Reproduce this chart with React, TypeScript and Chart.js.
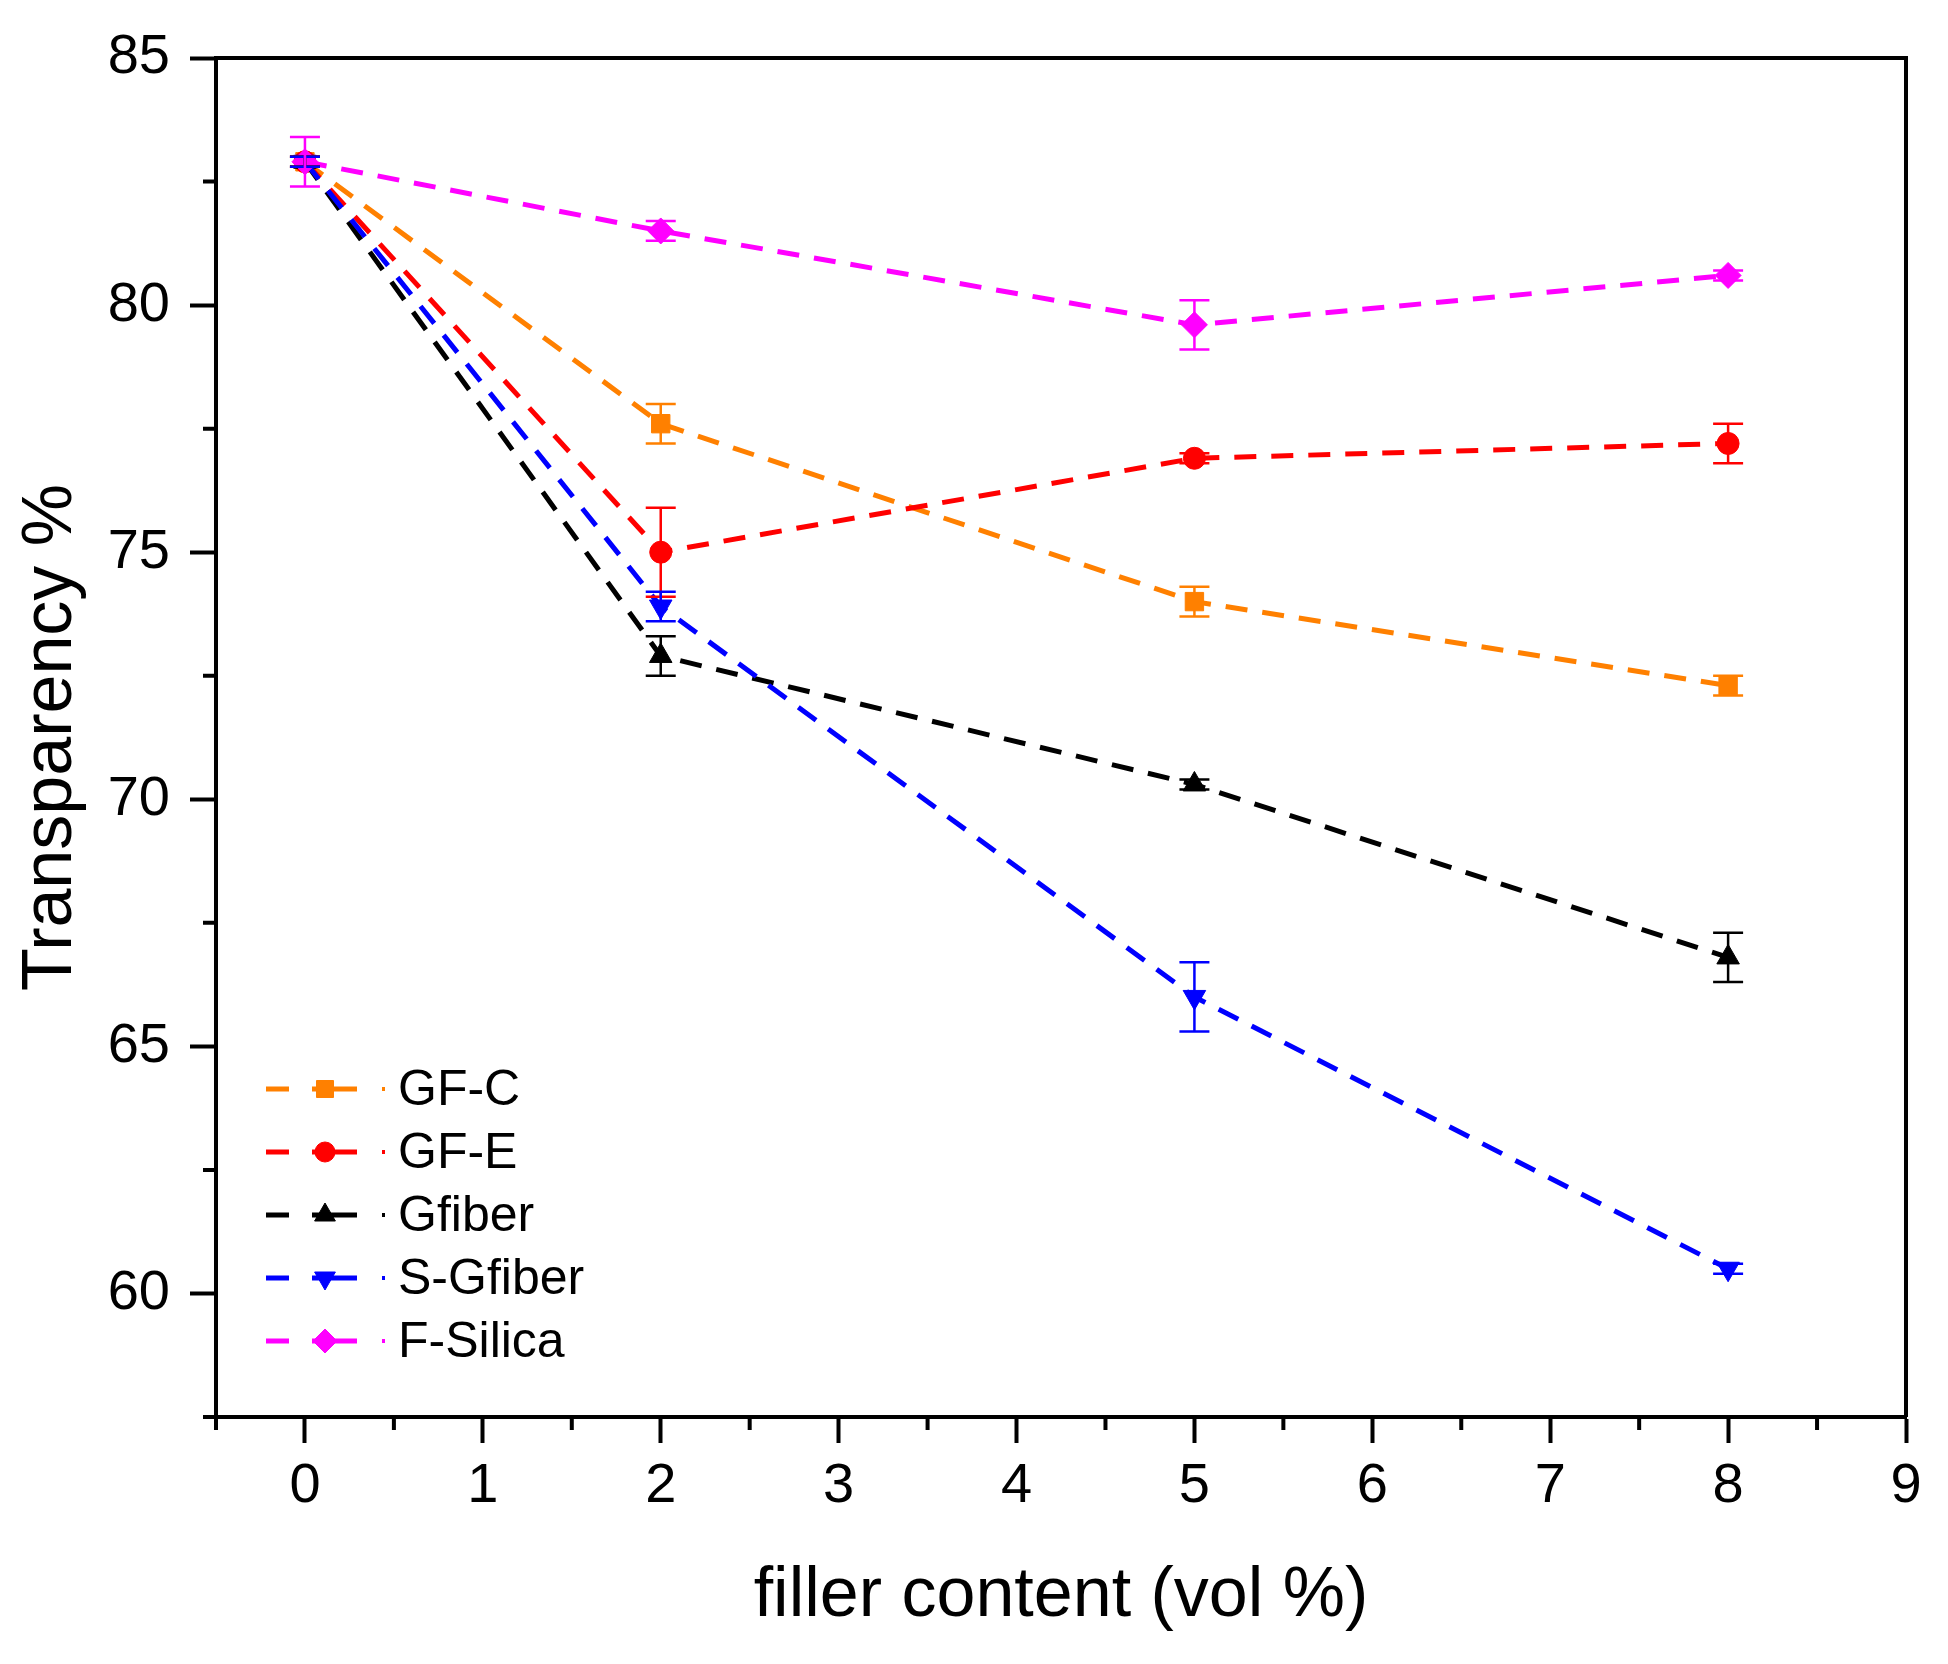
import React, { useEffect, useRef } from 'react';
import { Chart, registerables } from 'chart.js';
import { drawPoint } from 'chart.js/helpers';

Chart.register(...registerables);

const fillerContent = [0, 2, 5, 8];
const seriesNames = ['GF-C', 'GF-E', 'Gfiber', 'S-Gfiber', 'F-Silica'];
const seriesColors = ['#FF8000', '#FF0000', '#000000', '#0000FF', '#FF00FF'];

const gfC = [82.9, 77.6, 74.0, 72.3];
const gfCErr = [0.1, 0.4, 0.3, 0.2];
const gfE = [82.9, 75.0, 76.9, 77.2];
const gfEErr = [0.1, 0.9, 0.1, 0.4];
const gfiber = [82.9, 72.9, 70.3, 66.8];
const gfiberErr = [0.1, 0.4, 0.1, 0.5];
const sGfiber = [82.9, 73.9, 66.0, 60.5];
const sGfiberErr = [0.1, 0.3, 0.7, 0.1];
const fSilica = [82.9, 81.5, 79.6, 80.6];
const fSilicaErr = [0.5, 0.2, 0.5, 0.1];

const xTicks = [0, 1, 2, 3, 4, 5, 6, 7, 8, 9];
const xMinorTicks = [-0.5, 0.5, 1.5, 2.5, 3.5, 4.5, 5.5, 6.5, 7.5, 8.5];
const yTicks = [60, 65, 70, 75, 80, 85];
const yMinorTicks = [57.5, 62.5, 67.5, 72.5, 77.5, 82.5];

const seriesValues = [gfC, gfE, gfiber, sGfiber, fSilica];
const seriesErrors = [gfCErr, gfEErr, gfiberErr, sGfiberErr, fSilicaErr];
const markerStyles = ['rect', 'circle', 'triangle', 'triangle', 'rectRot'];
const markerRotation = [0, 0, 0, 180, 0];
const markerRadius = [13, 11, 13, 13, 13];

const FONT = "'Liberation Sans', Arial, sans-serif";

// error bars, minor ticks, top/right frame and the Origin-style legend
const extrasPlugin = {
  id: 'extras',
  afterDatasetsDraw(chart: any) {
    const { ctx } = chart;
    const yScale = chart.scales.y;
    chart.data.datasets.forEach((ds: any, di: number) => {
      const meta = chart.getDatasetMeta(di);
      const errs = seriesErrors[di];
      ctx.save();
      ctx.strokeStyle = ds.borderColor;
      ctx.lineWidth = 2.5;
      meta.data.forEach((pt: any, i: number) => {
        const v = seriesValues[di][i];
        const top = yScale.getPixelForValue(v + errs[i]);
        const bot = yScale.getPixelForValue(v - errs[i]);
        ctx.beginPath();
        ctx.moveTo(pt.x, top);
        ctx.lineTo(pt.x, bot);
        ctx.moveTo(pt.x - 15, top);
        ctx.lineTo(pt.x + 15, top);
        ctx.moveTo(pt.x - 15, bot);
        ctx.lineTo(pt.x + 15, bot);
        ctx.stroke();
      });
      ctx.restore();
    });
  },
  afterDraw(chart: any) {
    const { ctx, chartArea } = chart;
    const { left, right, top, bottom } = chartArea;
    ctx.save();
    ctx.strokeStyle = '#000';
    ctx.lineWidth = 4;
    ctx.beginPath();
    ctx.moveTo(left, top);
    ctx.lineTo(right, top);
    ctx.lineTo(right, bottom);
    xMinorTicks.forEach((v) => {
      const px = chart.scales.x.getPixelForValue(v);
      ctx.moveTo(px, bottom);
      ctx.lineTo(px, bottom + 13);
    });
    yMinorTicks.forEach((v) => {
      const py = chart.scales.y.getPixelForValue(v);
      ctx.moveTo(left, py);
      ctx.lineTo(left - 13, py);
    });
    ctx.stroke();

    // legend
    const lx = left + 50;
    const ly = top + 1031;
    chart.data.datasets.forEach((ds: any, i: number) => {
      const y = ly + i * 63;
      ctx.strokeStyle = ds.borderColor;
      ctx.fillStyle = ds.borderColor;
      ctx.lineWidth = 5;
      ctx.beginPath();
      ctx.moveTo(lx, y);
      ctx.lineTo(lx + 23, y);
      ctx.moveTo(lx + 46, y);
      ctx.lineTo(lx + 91, y);
      ctx.stroke();
      ctx.fillRect(lx + 116, y - 2, 3, 4);
      ctx.lineWidth = 1;
      drawPoint(ctx, {
        pointStyle: markerStyles[i],
        rotation: markerRotation[i],
        radius: markerRadius[i] - 1,
        borderWidth: 1,
      } as any, lx + 59, y);
      ctx.fillStyle = '#000';
      ctx.font = `50px ${FONT}`;
      ctx.textBaseline = 'middle';
      ctx.textAlign = 'left';
      ctx.fillText(seriesNames[i], lx + 132, y + 2);
    });
    ctx.restore();
  },
};

export default function App() {
  const canvasRef = useRef<HTMLCanvasElement>(null);
  const chartRef = useRef<Chart | null>(null);

  useEffect(() => {
    if (!canvasRef.current) return;
    if (chartRef.current) chartRef.current.destroy();

    const datasets = seriesNames.map((name, i) => ({
      label: name,
      data: fillerContent.map((x, j) => ({ x, y: seriesValues[i][j] })),
      borderColor: seriesColors[i],
      backgroundColor: seriesColors[i],
      borderWidth: 5,
      borderDash: [22, 15],
      tension: 0,
      pointStyle: markerStyles[i],
      rotation: markerRotation[i],
      pointRadius: markerRadius[i],
      pointBorderWidth: 1,
      order: seriesNames.length - 1 - i,
    }));

    chartRef.current = new Chart(canvasRef.current, {
      type: 'line',
      data: { datasets } as any,
      plugins: [extrasPlugin],
      options: {
        animation: false,
        responsive: true,
        maintainAspectRatio: false,
        devicePixelRatio: 1,
        layout: { padding: { top: 58, right: 42, left: 0, bottom: 0 } },
        plugins: {
          legend: { display: false },
          tooltip: { enabled: false },
        },
        scales: {
          x: {
            type: 'linear',
            min: -0.5,
            max: 9,
            afterBuildTicks: (s: any) => {
              s.ticks = xTicks.map((value) => ({ value }));
            },
            afterFit: (s: any) => {
              s.height = 247;
            },
            ticks: {
              color: '#000',
              font: { family: FONT, size: 56 },
              padding: 10,
              maxRotation: 0,
              autoSkip: false,
              callback: (v: any) => String(v),
            },
            grid: {
              drawOnChartArea: false,
              tickLength: 26,
              tickWidth: 4,
              tickColor: '#000',
            },
            border: { display: true, color: '#000', width: 4 },
            title: {
              display: true,
              text: 'filler content (vol %)',
              color: '#000',
              font: { family: FONT, size: 70 },
              padding: { top: 0, bottom: 25 },
            },
          },
          y: {
            type: 'linear',
            min: 57.5,
            max: 85,
            afterBuildTicks: (s: any) => {
              s.ticks = yTicks.map((value) => ({ value }));
            },
            afterFit: (s: any) => {
              s.width = 216;
            },
            ticks: {
              color: '#000',
              font: { family: FONT, size: 56 },
              padding: 20,
              autoSkip: false,
              callback: (v: any) => String(v),
            },
            grid: {
              drawOnChartArea: false,
              tickLength: 26,
              tickWidth: 4,
              tickColor: '#000',
            },
            border: { display: true, color: '#000', width: 4 },
            title: {
              display: true,
              text: 'Transparency %',
              color: '#000',
              font: { family: FONT, size: 70 },
              padding: { top: 10, bottom: 0 },
            },
          },
        },
      },
    });

    return () => {
      if (chartRef.current) {
        chartRef.current.destroy();
        chartRef.current = null;
      }
    };
  }, []);

  return (
    <div style={{ position: 'absolute', left: 0, top: 0, width: 1948, height: 1664, background: '#fff' }}>
      <canvas ref={canvasRef}></canvas>
    </div>
  );
}
